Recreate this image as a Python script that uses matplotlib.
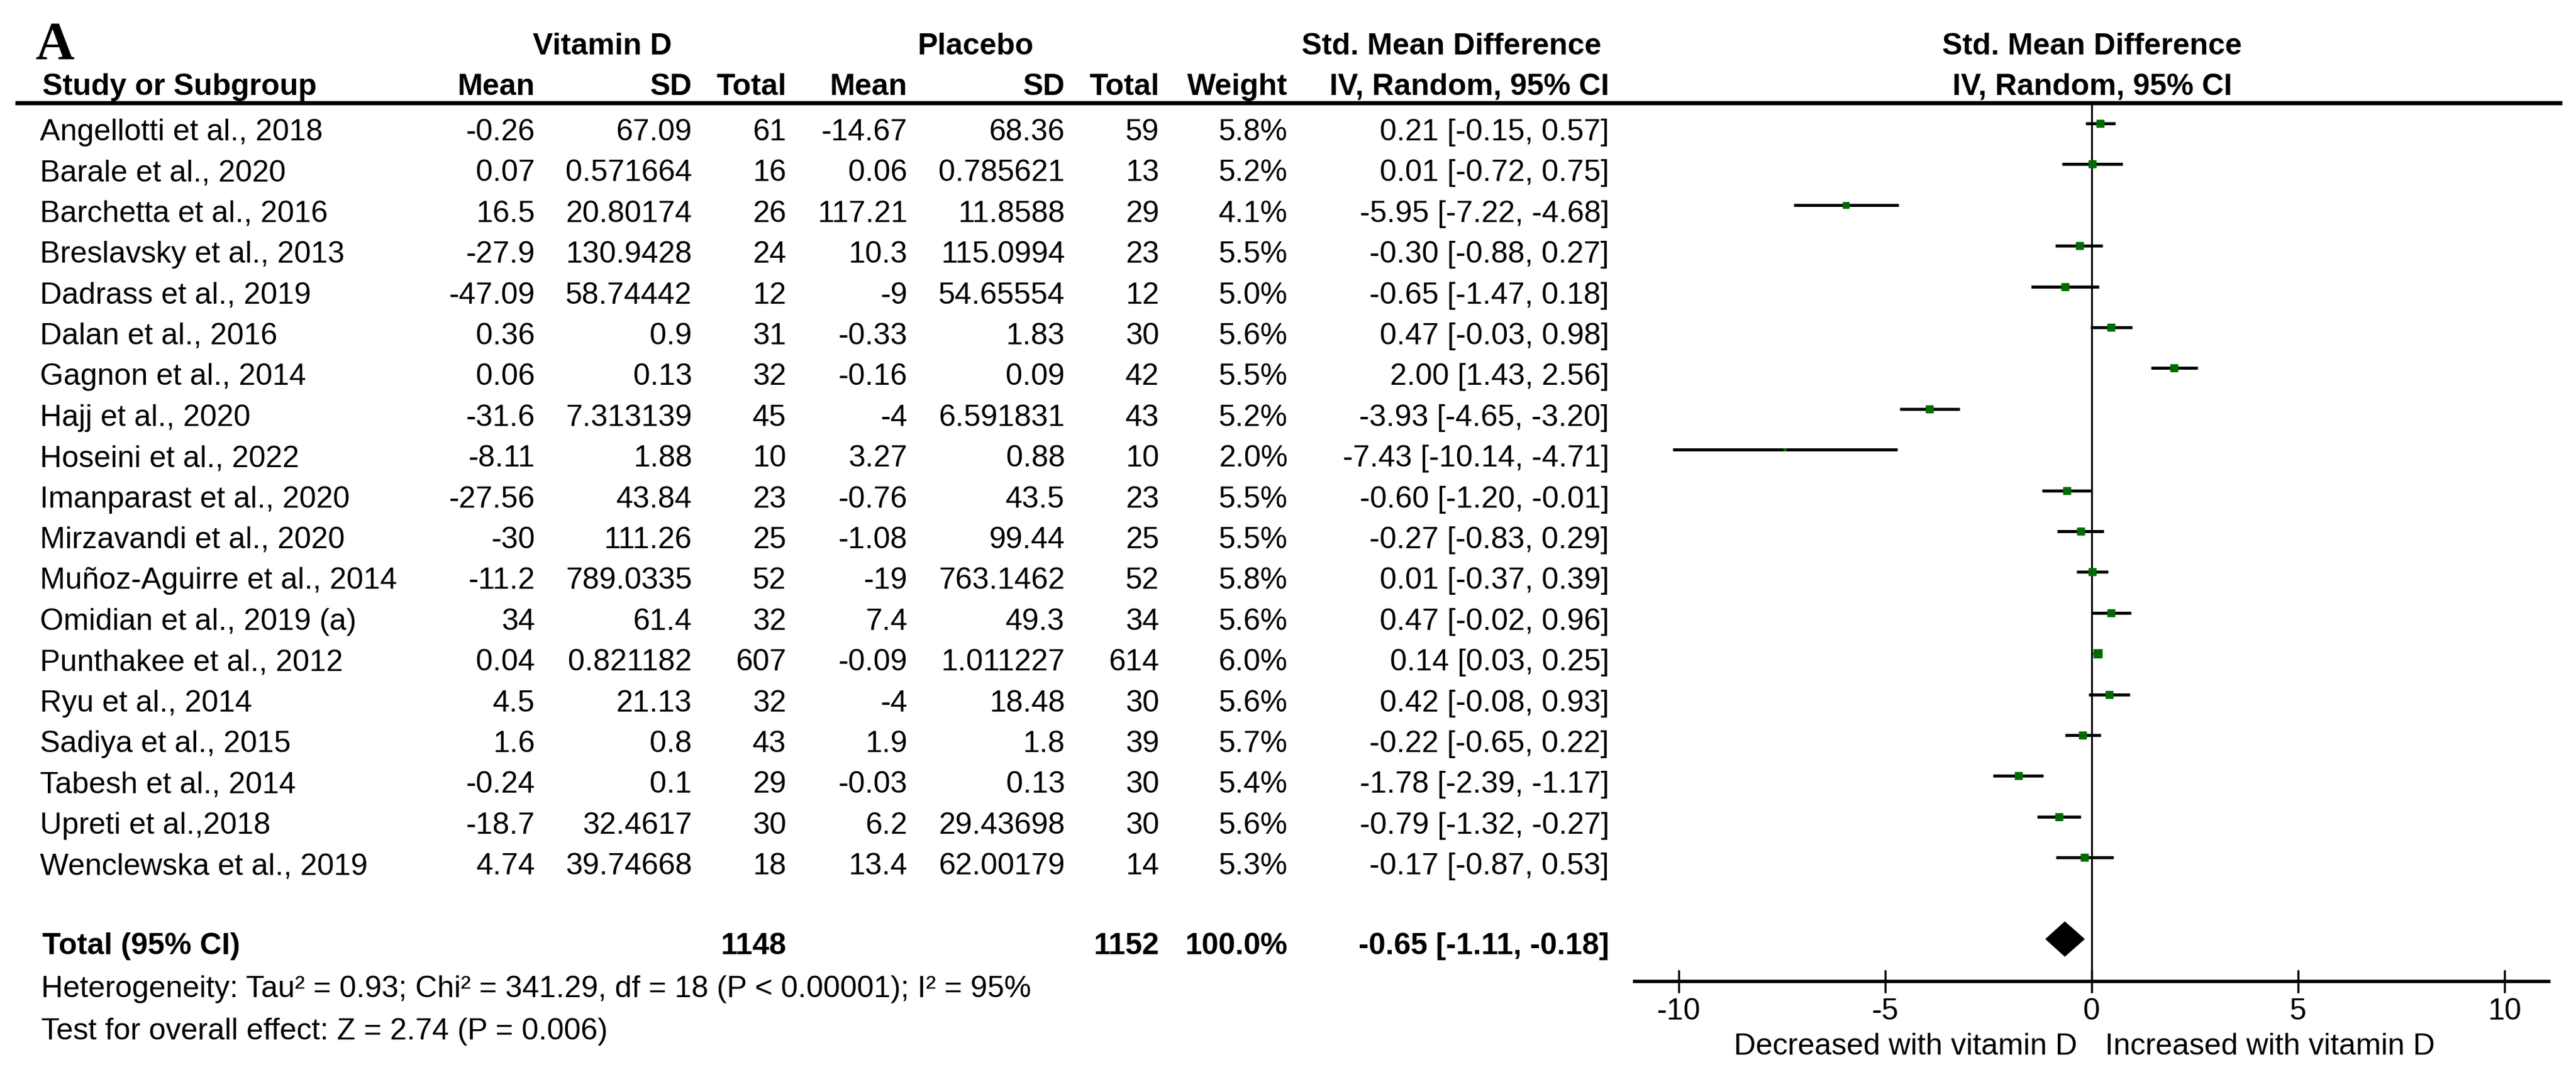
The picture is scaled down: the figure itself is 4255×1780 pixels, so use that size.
import matplotlib
matplotlib.use("Agg")
import matplotlib.pyplot as plt

plt.rcParams['font.family'] = ['Liberation Sans', 'DejaVu Sans']
plt.rcParams['axes.unicode_minus'] = False

## dados
studies = ["Angellotti et al., 2018", "Barale et al., 2020", "Barchetta et al., 2016",
           "Breslavsky et al., 2013", "Dadrass et al., 2019", "Dalan et al., 2016",
           "Gagnon et al., 2014", "Hajj et al., 2020", "Hoseini et al., 2022",
           "Imanparast et al., 2020", "Mirzavandi et al., 2020", "Muñoz-Aguirre et al., 2014",
           "Omidian et al., 2019 (a)", "Punthakee et al., 2012", "Ryu et al., 2014",
           "Sadiya et al., 2015", "Tabesh et al., 2014", "Upreti et al.,2018",
           "Wenclewska et al., 2019"]
vit_mean = [-0.26, 0.07, 16.5, -27.9, -47.09, 0.36, 0.06, -31.6, -8.11, -27.56, -30,
            -11.2, 34, 0.04, 4.5, 1.6, -0.24, -18.7, 4.74]
vit_sd = [67.09, 0.571664, 20.80174, 130.9428, 58.74442, 0.9, 0.13, 7.313139, 1.88, 43.84,
          111.26, 789.0335, 61.4, 0.821182, 21.13, 0.8, 0.1, 32.4617, 39.74668]
vit_n = [61, 16, 26, 24, 12, 31, 32, 45, 10, 23, 25, 52, 32, 607, 32, 43, 29, 30, 18]
pla_mean = [-14.67, 0.06, 117.21, 10.3, -9, -0.33, -0.16, -4, 3.27, -0.76, -1.08, -19, 7.4,
            -0.09, -4, 1.9, -0.03, 6.2, 13.4]
pla_sd = [68.36, 0.785621, 11.8588, 115.0994, 54.65554, 1.83, 0.09, 6.591831, 0.88, 43.5,
          99.44, 763.1462, 49.3, 1.011227, 18.48, 1.8, 0.13, 29.43698, 62.00179]
pla_n = [59, 13, 29, 23, 12, 30, 42, 43, 10, 23, 25, 52, 34, 614, 30, 39, 30, 30, 14]
weight = [5.8, 5.2, 4.1, 5.5, 5.0, 5.6, 5.5, 5.2, 2.0, 5.5, 5.5, 5.8, 5.6, 6.0, 5.6, 5.7,
          5.4, 5.6, 5.3]
smd = [0.21, 0.01, -5.95, -0.30, -0.65, 0.47, 2.00, -3.93, -7.43, -0.60, -0.27, 0.01, 0.47,
       0.14, 0.42, -0.22, -1.78, -0.79, -0.17]
ci_lo = [-0.15, -0.72, -7.22, -0.88, -1.47, -0.03, 1.43, -4.65, -10.14, -1.20, -0.83, -0.37,
         -0.02, 0.03, -0.08, -0.65, -2.39, -1.32, -0.87]
ci_hi = [0.57, 0.75, -4.68, 0.27, 0.18, 0.98, 2.56, -3.20, -4.71, -0.01, 0.29, 0.39, 0.96,
         0.25, 0.93, 0.22, -1.17, -0.27, 0.53]

total_vit = 1148
total_pla = 1152
total_weight = 100.0
total_smd = -0.65
total_lo = -1.11
total_hi = -0.18
xticks = [-10, -5, 0, 5, 10]
heterog = "Heterogeneity: Tau² = 0.93; Chi² = 341.29, df = 18 (P < 0.00001); I² = 95%"
overall = "Test for overall effect: Z = 2.74 (P = 0.006)"

W, H = 4255, 1781
fig = plt.figure(figsize=(W / 100, H / 100), dpi=100)

# eixo de texto em pixels
tx = fig.add_axes([0, 0, 1, 1])
tx.set_xlim(0, W)
tx.set_ylim(H, 0)
tx.axis('off')

fs = 36
row0 = 232
dy = 67.4

tx.text(58, 97, "A", fontsize=64, fontweight='bold', family=['Liberation Serif', 'DejaVu Serif'])
tx.text(995, 90, "Vitamin D", fontsize=fs, fontweight='bold', ha='center')
tx.text(1612, 90, "Placebo", fontsize=fs, fontweight='bold', ha='center')
tx.text(2398, 90, "Std. Mean Difference", fontsize=fs, fontweight='bold', ha='center')
tx.text(3456, 90, "Std. Mean Difference", fontsize=fs, fontweight='bold', ha='center')

hy = 157
tx.text(70, hy, "Study or Subgroup", fontsize=fs, fontweight='bold')
cols = [(884, "Mean"), (1143, "SD"), (1299, "Total"), (1499, "Mean"), (1759, "SD"),
        (1915, "Total"), (2127, "Weight"), (2658, "IV, Random, 95% CI")]
for x, lab in cols:
    tx.text(x, hy, lab, fontsize=fs, fontweight='bold', ha='right')
tx.text(3456, hy, "IV, Random, 95% CI", fontsize=fs, fontweight='bold', ha='center')

tx.plot([25, 4232], [171, 171], color='black', lw=5, solid_capstyle='butt')

for i in range(len(studies)):
    y = row0 + dy * i
    tx.text(66, y, studies[i], fontsize=fs)
    vals = [str(vit_mean[i]), str(vit_sd[i]), str(vit_n[i]), str(pla_mean[i]), str(pla_sd[i]),
            str(pla_n[i]), f"{weight[i]:.1f}%",
            f"{smd[i]:.2f} [{ci_lo[i]:.2f}, {ci_hi[i]:.2f}]"]
    for (x, _), v in zip(cols, vals):
        tx.text(x, y, v, fontsize=fs, ha='right')

yt = 1577
tx.text(70, yt, "Total (95% CI)", fontsize=fs, fontweight='bold')
tx.text(1299, yt, str(total_vit), fontsize=fs, fontweight='bold', ha='right')
tx.text(1915, yt, str(total_pla), fontsize=fs, fontweight='bold', ha='right')
tx.text(2127, yt, f"{total_weight:.1f}%", fontsize=fs, fontweight='bold', ha='right')
tx.text(2658, yt, f"{total_smd:.2f} [{total_lo:.2f}, {total_hi:.2f}]", fontsize=fs,
        fontweight='bold', ha='right')
tx.text(68, 1648, heterog, fontsize=fs)
tx.text(68, 1718, overall, fontsize=fs)
tx.text(3431, 1743, "Decreased with vitamin D", fontsize=fs, ha='right')
tx.text(3477, 1743, "Increased with vitamin D", fontsize=fs, ha='left')

# grafico de floresta
top_px, bot_px = 171, 1623
y0_px = 205
ax = fig.add_axes([2700 / W, 1 - bot_px / H, 1510 / W, (bot_px - top_px) / H])
ax.set_xlim(-11.07, 11.07)
ax.set_ylim((bot_px - y0_px) / dy, (top_px - y0_px) / dy)
ax.patch.set_alpha(0)
for s in ['top', 'left', 'right']:
    ax.spines[s].set_visible(False)
ax.spines['bottom'].set_linewidth(4)
ax.set_yticks([])
ax.set_xticks(xticks)
ax.set_xticklabels([str(t) for t in xticks], fontsize=fs)
ax.tick_params(axis='x', direction='inout', length=27, width=2.5, pad=5)

ax.axvline(0, color='black', lw=2.2)
for i in range(len(studies)):
    ax.plot([ci_lo[i], ci_hi[i]], [i, i], color='black', lw=3.6, solid_capstyle='butt')
    ax.plot(smd[i], i, marker='s', color='#006d00', ms=weight[i] * 1.6, mec='#006d00')

h = 0.42
ax.fill([total_lo, total_smd, total_hi, total_smd], [20, 20 - h, 20, 20 + h], color='black')

fig.savefig("out.png", dpi=100)
